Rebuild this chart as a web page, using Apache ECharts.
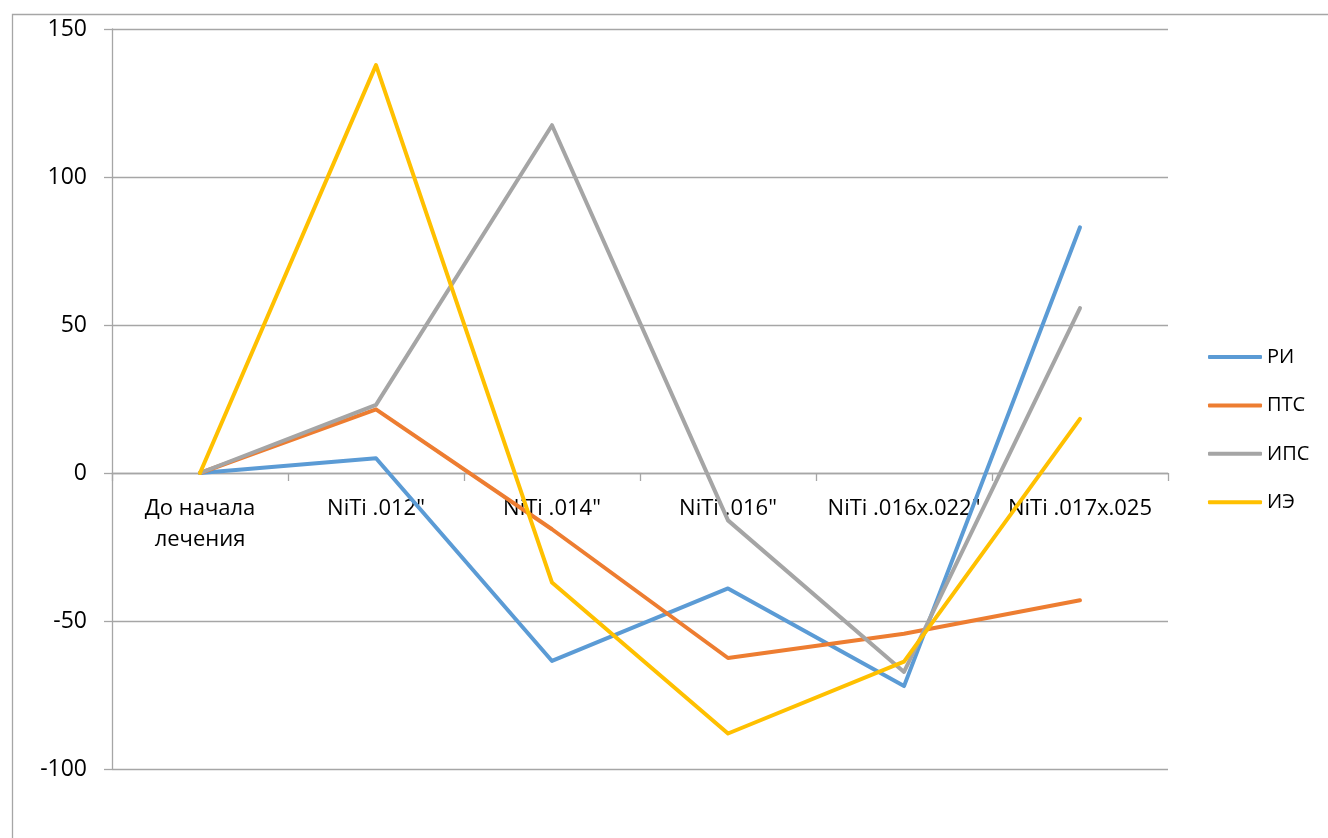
<!DOCTYPE html>
<html>
<head>
<meta charset="utf-8">
<script src="https://cdn.jsdelivr.net/npm/echarts@6/dist/echarts.min.js"></script>
<style>
  html, body { margin: 0; padding: 0; background: #ffffff; }
  #chart { width: 1328px; height: 838px; }
</style>
</head>
<body>
<div id="chart"></div>
<script>
// Stages of treatment (x axis)
const categories = ['До начала лечения', 'NiTi .012"', 'NiTi .014"', 'NiTi .016"', 'NiTi .016x.022"', 'NiTi .017x.025'];

// Series values per stage
const seriesNames = ['РИ', 'ПТС', 'ИПС', 'ИЭ'];
const valuesRI  = [0, 5, -63.5, -39, -72, 83];
const valuesPTS = [0, 21.5, -19, -62.5, -54.3, -43];
const valuesIPS = [0, 23, 117.5, -16, -67.2, 55.7];
const valuesIE  = [0, 137.8, -37, -88, -63.7, 18.3];

// Y axis range and step
const yMin = -100, yMax = 150, yStep = 50;

const colors = ['#5B9BD5', '#ED7D31', '#A5A5A5', '#FFC000'];
const allValues = [valuesRI, valuesPTS, valuesIPS, valuesIE];

const FONT = '"Open Sans", "Noto Sans", sans-serif';
const GRID_COLOR = '#a6a6a6';

// Long category names wrap onto two lines at the first space
function wrapLabel(v) {
  if (v.length > 16) {
    const i = v.indexOf(' ', 3);
    return i > 0 ? v.slice(0, i) + '\n' + v.slice(i + 1) : v;
  }
  return v;
}

const chart = echarts.init(document.getElementById('chart'), null, { renderer: 'canvas' });

// Pixel distance between the zero line and the bottom of the plot
const GRID_TOP = 29, GRID_BOTTOM = 69, PLOT_H = 838 - GRID_TOP - GRID_BOTTOM;
const zeroOffset = PLOT_H * (0 - yMin) / (yMax - yMin);

chart.setOption({
  animation: false,
  backgroundColor: '#ffffff',
  color: colors,
  graphic: [{
    type: 'rect',
    left: 10, top: 12,
    shape: { width: 1340, height: 850 },
    style: { fill: 'none', stroke: '#a6a6a6', lineWidth: 1.3 },
    silent: true,
    z: -1
  }],
  grid: { left: 112, right: 160, top: GRID_TOP, bottom: GRID_BOTTOM, containLabel: false, outerBoundsMode: 'none' },
  legend: {
    orient: 'vertical',
    left: 1203,
    top: 342,
    itemWidth: 54,
    itemHeight: 4,
    itemGap: 28.4,
    icon: 'roundRect',
    textStyle: { fontFamily: FONT, fontSize: 20, lineHeight: 20, color: '#000000', padding: [0, 0, 0, 0] },
    data: seriesNames
  },
  xAxis: [{
    // axis line and ticks along the zero line
    type: 'category',
    data: categories,
    boundaryGap: true,
    axisLine: { onZero: true, lineStyle: { color: GRID_COLOR, width: 1.3 } },
    axisTick: { show: true, alignWithLabel: false, length: 8, lineStyle: { color: GRID_COLOR, width: 1.3 } },
    axisLabel: { show: false },
    splitLine: { show: false }
  }, {
    // category labels just under the zero line
    type: 'category',
    data: categories,
    boundaryGap: true,
    position: 'bottom',
    offset: -zeroOffset,
    axisLine: { show: false, onZero: false },
    axisTick: { show: false },
    axisLabel: {
      interval: 0,
      hideOverlap: false,
      margin: 20,
      fontFamily: FONT,
      fontSize: 22,
      lineHeight: 31,
      color: '#000000',
      formatter: wrapLabel
    },
    splitLine: { show: false }
  }],
  yAxis: {
    type: 'value',
    min: yMin,
    max: yMax,
    interval: yStep,
    axisLine: { show: true, lineStyle: { color: GRID_COLOR, width: 1.3 } },
    axisTick: { show: true, length: 8, lineStyle: { color: GRID_COLOR, width: 1.3 } },
    axisLabel: { margin: 25, fontFamily: FONT, fontSize: 23, color: '#000000' },
    splitLine: { show: true, lineStyle: { color: GRID_COLOR, width: 1.3 } }
  },
  series: seriesNames.map((name, i) => ({
    name: name,
    type: 'line',
    xAxisIndex: 0,
    data: allValues[i],
    symbol: 'none',
    showSymbol: false,
    lineStyle: { width: 4, color: colors[i], cap: 'round', join: 'round' },
    itemStyle: { color: colors[i] },
    z: 2 + i
  }))
});
</script>
</body>
</html>
